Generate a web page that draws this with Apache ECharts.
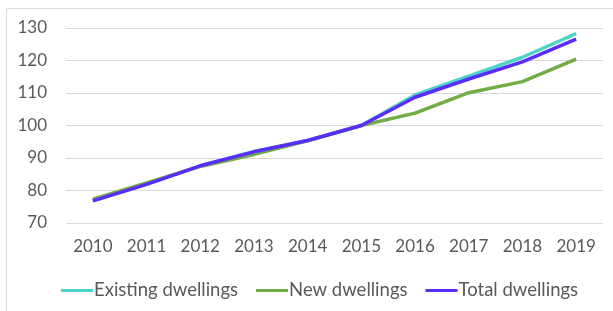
<!DOCTYPE html>
<html>
<head>
<meta charset="utf-8">
<script src="https://cdn.jsdelivr.net/npm/echarts@6/dist/echarts.min.js"></script>
<style>
  html, body { margin: 0; padding: 0; background: #fff; }
  #chart { width: 613px; height: 311px; }
</style>
</head>
<body>
<div id="chart"></div>
<script>
// 数据
var years = ['2010', '2011', '2012', '2013', '2014', '2015', '2016', '2017', '2018', '2019'];
var existing = [76.8, 82.0, 87.6, 92.0, 95.4, 100, 109.4, 115.2, 121.0, 128.3];
var newDw = [77.3, 82.3, 87.4, 91.1, 95.3, 100, 103.8, 110.1, 113.5, 120.4];
var total = [76.8, 81.9, 87.6, 91.9, 95.4, 100, 108.7, 114.3, 119.6, 126.6];
var yTicks = [70, 80, 90, 100, 110, 120, 130];

(function () {
    var myChart = echarts.init(document.getElementById('chart'));
    var font = 'Lato, "Open Sans", sans-serif';
    var option = {
        animation: false,
        // 外框
        graphic: [
            {
                type: 'polyline',
                shape: { points: [[6.5, 320], [6.5, 8.5], [620, 8.5]] },
                style: { stroke: '#d9d9d9', lineWidth: 1, fill: null }
            }
        ],
        grid: {
            left: 66,
            right: 10,
            top: 28,
            bottom: 88
        },
        legend: {
            left: 56,
            top: 276,
            icon: 'rect',
            itemWidth: 32,
            itemHeight: 3,
            itemGap: 18,
            textStyle: {
                color: '#595959',
                fontSize: 18.5,
                fontFamily: font,
                padding: [0, 0, 0, -4]
            },
            data: ['Existing dwellings', 'New dwellings', 'Total dwellings']
        },
        xAxis: {
            type: 'category',
            data: years,
            boundaryGap: true,
            axisLine: { show: false },
            axisTick: { show: false },
            axisLabel: {
                color: '#595959',
                fontSize: 17,
                fontFamily: font,
                margin: 15
            }
        },
        yAxis: {
            type: 'value',
            min: yTicks[0],
            max: yTicks[yTicks.length - 1],
            interval: 10,
            axisLine: { show: false },
            axisTick: { show: false },
            axisLabel: {
                color: '#595959',
                fontSize: 17,
                fontFamily: font,
                margin: 19
            },
            splitLine: {
                lineStyle: { color: '#d9d9d9', width: 1 }
            }
        },
        series: [
            {
                name: 'Existing dwellings',
                type: 'line',
                data: existing,
                symbol: 'none',
                lineStyle: { color: '#4dd4c6', width: 3.5 },
                itemStyle: { color: '#4dd4c6' }
            },
            {
                name: 'New dwellings',
                type: 'line',
                data: newDw,
                symbol: 'none',
                lineStyle: { color: '#70ad47', width: 3.5 },
                itemStyle: { color: '#70ad47' }
            },
            {
                name: 'Total dwellings',
                type: 'line',
                data: total,
                symbol: 'none',
                lineStyle: { color: '#5b2bff', width: 3.5 },
                itemStyle: { color: '#5b2bff' }
            }
        ]
    };
    myChart.setOption(option);
})();
</script>
</body>
</html>
